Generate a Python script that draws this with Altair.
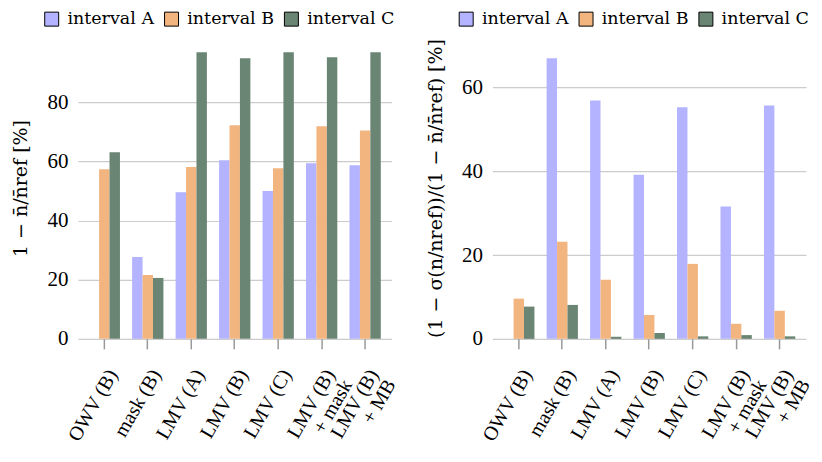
import altair as alt
import pandas as pd

FONT = "Liberation Serif"
FONT2 = "DejaVu Serif"

categories = ["OWV (B)", "mask (B)", "LMV (A)", "LMV (B)", "LMV (C)",
              "LMV (B)\n+ mask", "LMV (B)\n+ MB"]
series = ["interval A", "interval B", "interval C"]
colors = ["#b3b3ff", "#f2b57f", "#6a8574"]

left_a = [None, 27.7, 49.6, 60.4, 50.0, 59.4, 58.7]
left_b = [57.4, 21.6, 58.1, 72.2, 57.7, 71.9, 70.5]
left_c = [63.1, 20.6, 96.9, 94.9, 96.9, 95.2, 96.9]

right_a = [None, 67.0, 56.9, 39.2, 55.3, 31.6, 55.7]
right_b = [9.6, 23.2, 14.1, 5.7, 17.9, 3.6, 6.7]
right_c = [7.7, 8.1, 0.5, 1.4, 0.6, 0.9, 0.6]

left_ticks = [0, 20, 40, 60, 80]
right_ticks = [0, 20, 40, 60]

left_title = "1 − n̄/n̄ref  [%]"
right_title = "(1 − σ(n/nref))/(1 − n̄/n̄ref)  [%]"


def make_df(a, b, c):
    rows = []
    for s, vals in zip(series, [a, b, c]):
        for cat, v in zip(categories, vals):
            if v is not None:
                rows.append({"cat": cat, "series": s, "value": v})
    return pd.DataFrame(rows)


def panel(df, title, ymax, yvals):
    return alt.Chart(df).mark_bar().encode(
        x=alt.X("cat:N", sort=categories, title=None,
                scale=alt.Scale(paddingInner=0.28, paddingOuter=0.247),
                axis=alt.Axis(labelAngle=300, labelAlign="right", labelBaseline="top",
                              labelExpr="split(datum.label, '\\n')",
                              tickSize=10, tickColor="#999999", tickWidth=1.5,
                              domain=False, grid=False, labelPadding=17, labelOffset=0,
                              labelFont=FONT, labelFontSize=20, labelLineHeight=20,
                              labelColor="#000000")),
        xOffset=alt.XOffset("series:N", sort=series,
                            scale=alt.Scale(domain=series, paddingInner=0, paddingOuter=0)),
        y=alt.Y("value:Q", title=title,
                scale=alt.Scale(domain=[0, ymax], nice=False),
                axis=alt.Axis(values=yvals, grid=True, gridColor="#cccccc", gridWidth=1.2,
                              domain=False, ticks=False, labelPadding=10,
                              labelFont=FONT, labelFontSize=21, labelColor="#000000",
                              titleFont=FONT2, titleFontSize=19,
                              titleFontWeight="normal",
                              titleColor="#000000", titlePadding=16)),
        color=alt.Color("series:N", scale=alt.Scale(domain=series, range=colors),
                        legend=alt.Legend(orient="none", legendX=-35, legendY=-27,
                                          direction="horizontal", title=None,
                                          symbolType="square", symbolSize=196,
                                          symbolStrokeColor="black", symbolStrokeWidth=1,
                                          symbolOpacity=1, labelFont=FONT2,
                                          labelFontSize=17.5,
                                          labelColor="#000000", labelOffset=7,
                                          columnPadding=7)),
    ).properties(width=314, height=302)


left = panel(make_df(left_a, left_b, left_c), left_title, 102, left_ticks)
right = panel(make_df(right_a, right_b, right_c), right_title, 72, right_ticks)

chart = alt.hconcat(left, right, spacing=27).resolve_legend(
    color="independent"
).configure_view(stroke=None).properties(
    padding={"left": 4, "top": 2, "right": 0, "bottom": 0}
)

chart.save("out.html", embed_options={"renderer": "svg", "actions": False})
